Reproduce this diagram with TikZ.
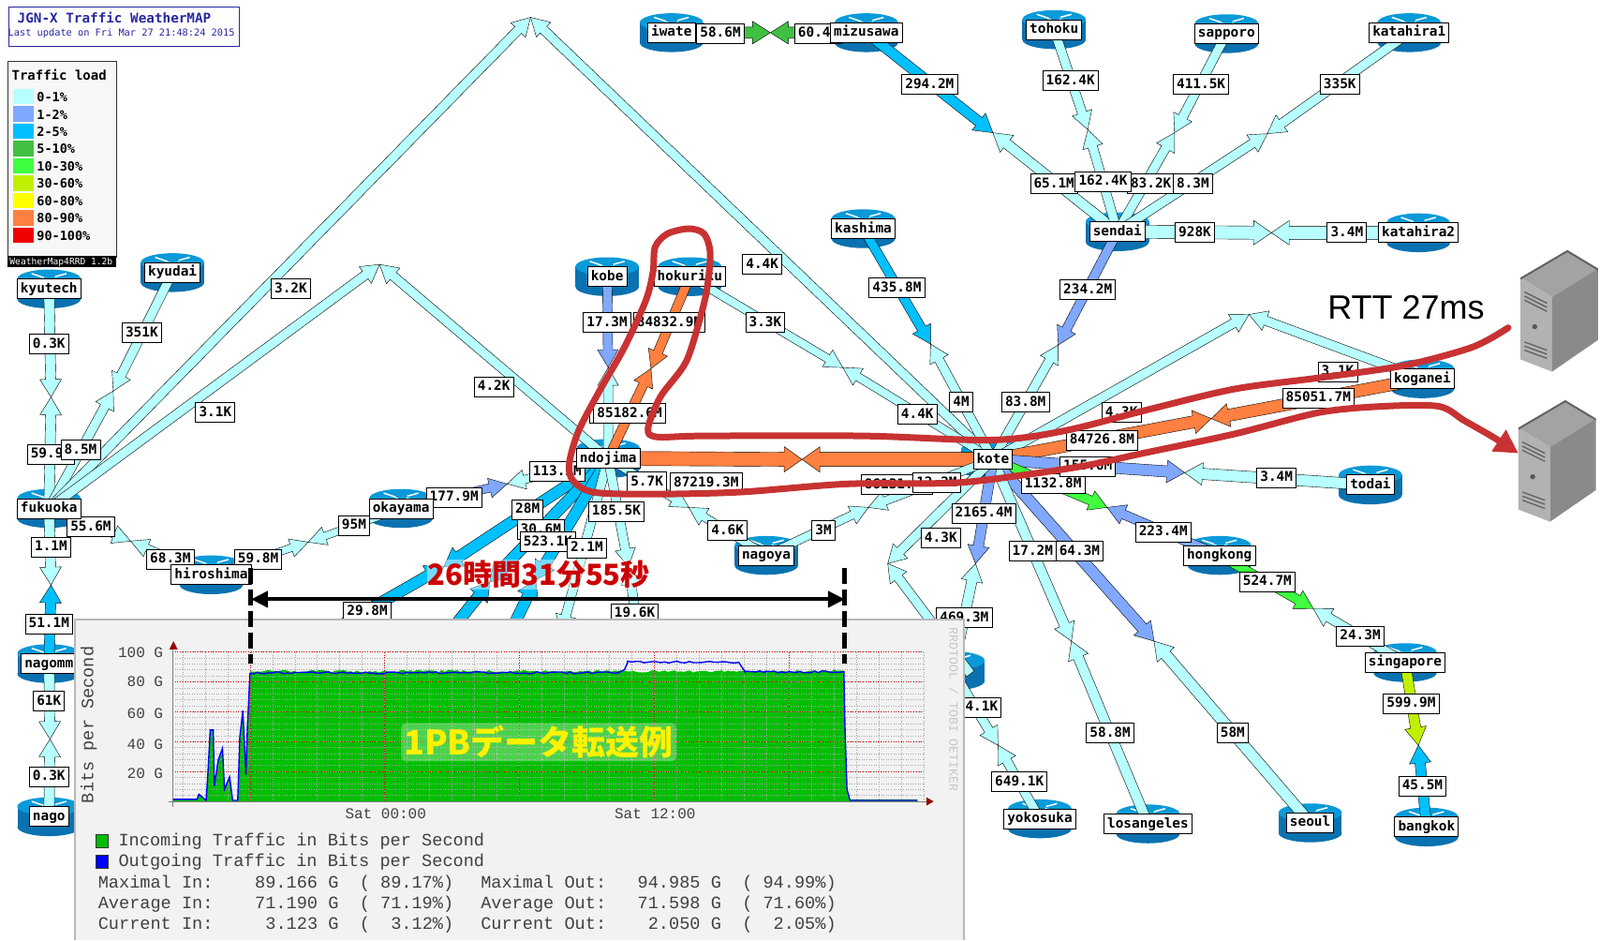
\documentclass[tikz,border=0pt]{standalone}
\usepackage{fontspec}
\usepackage{xcolor}
\usetikzlibrary{arrows.meta, calc}
\newfontfamily\mapfont{DejaVu Sans Mono}
\newfontfamily\graphfont{Liberation Mono}
\newfontfamily\noteJP{Noto Sans CJK JP}
\newfontfamily\rttfont{Liberation Sans}
\definecolor{Load_Cyan}{HTML}{B8FFFF}
\definecolor{Load_Lilac}{HTML}{80A8FF}
\definecolor{Load_Sky}{HTML}{00C0FF}
\definecolor{Load_Leaf}{HTML}{40C040}
\definecolor{Load_Lime}{HTML}{40FF40}
\definecolor{Load_Olive}{HTML}{C0F000}
\definecolor{Load_Yellow}{HTML}{FFFF00}
\definecolor{Load_Orange}{HTML}{FF8040}
\definecolor{Load_Red}{HTML}{F00000}
\definecolor{Router_Top}{HTML}{0A9AD8}
\definecolor{Router_Body}{HTML}{0A72B0}
\definecolor{Map_Title}{HTML}{2828A0}
\definecolor{Note_Red}{HTML}{C83232}
\definecolor{Graph_Green}{HTML}{00BE00}
\pgfdeclarelayer{iconlayer}
\pgfdeclarelayer{linklayer}
\pgfdeclarelayer{lbllayer}
\pgfsetlayers{iconlayer,linklayer,lbllayer,main}
\tikzset{
  netlabel/.style={draw=black, line width=0.9pt, fill=white, inner xsep=3.6pt, inner ysep=3.5pt,
    text height=11pt, text depth=3pt, font=\mapfont\bfseries\fontsize{14.4}{15}\selectfont},
  linkshape/.style={draw=black, line width=0.4pt},
  graphtext/.style={inner sep=0pt, text=black!75, font=\graphfont\fontsize{18.6}{20}\selectfont},
  ticktext/.style={inner sep=0pt, text=black!75, font=\graphfont\fontsize{16}{18}\selectfont},
  noteline/.style={draw=Note_Red, line width=7pt, line cap=round, line join=round}
}
% half of a link: shaft and tip from a node to the meeting point
\newcommand{\halfarrow}[4]{%
  \pgfmathsetmacro{\tipw}{#3+6}
  \coordinate (hb) at ($(#2)!19pt!(#1)$);
  \filldraw[linkshape, fill=#4] ($(#1)!#3pt!90:(#2)$) -- ($(hb)!#3pt!90:(#2)$) -- ($(hb)!\tipw pt!90:(#2)$)
    -- (#2) -- ($(hb)!\tipw pt!-90:(#2)$) -- ($(hb)!#3pt!-90:(#2)$) -- ($(#1)!#3pt!-90:(#2)$) -- cycle;
}
% router icon under its name box
\newcommand{\netrouter}[4]{%
  \begin{pgfonlayer}{iconlayer}
    \fill[Router_Body] (#2-31,#3-10) rectangle (#2+31,#3+10);
    \fill[Router_Body] (#2,#3+10) ellipse [x radius=31, y radius=9];
    \fill[Router_Top] (#2,#3-10) ellipse [x radius=31, y radius=9];
    \draw[white, line width=1.5pt] (#2-17,#3-15) -- (#2-5,#3-11) (#2+17,#3-15) -- (#2+6,#3-12) (#2-12,#3-7) -- (#2-3,#3-10) (#2+14,#3-8) -- (#2+5,#3-10);
  \end{pgfonlayer}
  \node[netlabel] (#1) at (#2,#3) {#4};
}
% tower server
\newcommand{\towerserver}[3]{%
  \begin{scope}[shift={(#2,#3)}]
    \fill[black!36] (1537,245) -- (1491,272) -- (1522,291) -- (1567,263) -- cycle;
    \fill[black!30] (1491,272) -- (1522,291) -- (1522,364) -- (1491,352) -- cycle;
    \fill[black!46] (1522,291) -- (1567,263) -- (1567,333) -- (1522,364) -- cycle;
    \fill[black!62] (1537,245) -- (1491,272) -- (1491,274) -- (1537,247) -- (1567,265) -- (1567,263) -- cycle;
    \foreach \y in {0,4,8} {
      \draw[black!62, line width=1.3pt] (1495,286+\y) -- (1517,297+\y);
      \draw[black!62, line width=1.3pt] (1495,335+\y) -- (1517,343+\y);
    }
    \fill[black!65] (1505,320) circle (2.5);
    \coordinate (#1) at (1522,300);
  \end{scope}
}

\begin{document}
\begin{tikzpicture}[x=1.08929pt, y=-1.08929pt]
\useasboundingbox (0,0) rectangle (1568,921);
\begin{pgfonlayer}{iconlayer}
  \fill[white] (0,0) rectangle (1568,921);
\end{pgfonlayer}
% --- Routers ---
\netrouter{kyutech}{48}{283}{kyutech}
\netrouter{kyudai}{169}{267}{kyudai}
\netrouter{fukuoka}{48}{498}{fukuoka}
\netrouter{hiroshima}{207}{563}{hiroshima}
\netrouter{okayama}{393}{498}{okayama}
\netrouter{ndojima}{596}{449}{ndojima}
\netrouter{kobe}{595}{271}{kobe}
\netrouter{hokuriku}{676}{271}{hokuriku}
\netrouter{kote}{973}{450}{kote}
\netrouter{nagoya}{751}{544}{nagoya}
\netrouter{kashima}{846}{224}{kashima}
\netrouter{iwate}{658}{32}{iwate}
\netrouter{mizusawa}{849}{32}{mizusawa}
\netrouter{tohoku}{1033}{29}{tohoku}
\netrouter{sapporo}{1202}{33}{sapporo}
\netrouter{katahiraA}{1381}{32}{katahira1}
\netrouter{sendai}{1095}{227}{sendai}
\netrouter{katahiraB}{1390}{228}{katahira2}
\netrouter{koganei}{1394}{371}{koganei}
\netrouter{todai}{1343}{475}{todai}
\netrouter{hongkong}{1195}{544}{hongkong}
\netrouter{singapore}{1377}{649}{singapore}
\netrouter{bangkok}{1398}{810}{bangkok}
\netrouter{seoul}{1284}{806}{seoul}
\netrouter{losangeles}{1125}{807}{losangeles}
\netrouter{yokosuka}{1019}{802}{yokosuka}
\netrouter{nagomm}{48}{650}{nagomm}
\netrouter{nago}{48}{800}{nago}
\netrouter{hiddenE}{934}{657}{e}
% ends of the links that run under the graph
\coordinate (endA) at (330,615);
\coordinate (endB) at (420,645);
\coordinate (endC) at (490,640);
\coordinate (endD) at (530,700);
\coordinate (endE) at (630,650);
\coordinate (endF) at (951,660);
% --- Links: from / to / meeting point / half width / colours ---
\begin{pgfonlayer}{linklayer}
\foreach \from/\to/\mx/\my/\hw/\ca/\cb in {
  kyutech/fukuoka/50/389/5.5/Load_Cyan/Load_Cyan,
  kyudai/fukuoka/111/383/5/Load_Cyan/Load_Cyan,
  fukuoka/kote/520/17/5/Load_Cyan/Load_Cyan,
  fukuoka/ndojima/372/259/5/Load_Cyan/Load_Cyan,
  fukuoka/hiroshima/128/530/4/Load_Cyan/Load_Cyan,
  hiroshima/okayama/302/531/4/Load_Cyan/Load_Cyan,
  okayama/ndojima/497/474/4.5/Load_Lilac/Load_Cyan,
  fukuoka/nagomm/50/573/5.5/Load_Cyan/Load_Sky,
  nagomm/nago/49/724/5.5/Load_Cyan/Load_Cyan,
  kobe/ndojima/596/360/5/Load_Lilac/Load_Cyan,
  hokuriku/ndojima/638/361/5/Load_Orange/Load_Orange,
  hokuriku/kote/826/360/4.5/Load_Cyan/Load_Cyan,
  kashima/kote/912/337/5/Load_Sky/Load_Cyan,
  sendai/kote/1037/338/5/Load_Lilac/Load_Cyan,
  mizusawa/sendai/973/130/5.5/Load_Sky/Load_Cyan,
  iwate/mizusawa/755/32/6/Load_Leaf/Load_Leaf,
  tohoku/sendai/1066/127/5/Load_Cyan/Load_Cyan,
  sapporo/sendai/1151/130/5/Load_Cyan/Load_Cyan,
  katahiraA/sendai/1242/131/5/Load_Cyan/Load_Cyan,
  sendai/katahiraB/1246/228/7/Load_Cyan/Load_Cyan,
  ndojima/kote/786/450/7.5/Load_Orange/Load_Orange,
  kote/koganei/1224/308/5/Load_Cyan/Load_Cyan,
  kote/koganei/1187/410/6.5/Load_Orange/Load_Orange,
  kote/todai/1161/463/6/Load_Lilac/Load_Cyan,
  kote/hongkong/1085/497/5/Load_Lime/Load_Lilac,
  hongkong/singapore/1287/596/5/Load_Lime/Load_Cyan,
  singapore/bangkok/1390/730/5.5/Load_Olive/Load_Sky,
  kote/seoul/1131/628/6/Load_Lilac/Load_Cyan,
  kote/losangeles/1050/628/5.5/Load_Cyan/Load_Cyan,
  kote/hiddenE/956/552/5.5/Load_Lilac/Load_Cyan,
  kote/endF/870/552/5/Load_Cyan/Load_Cyan,
  hiddenE/yokosuka/978/730/5/Load_Cyan/Load_Cyan,
  ndojima/nagoya/675/497/4.5/Load_Cyan/Load_Cyan,
  nagoya/kote/851/497/4.5/Load_Cyan/Load_Cyan,
  ndojima/endA/435/555/6/Load_Sky/Load_Sky,
  ndojima/endB/480/570/6/Load_Sky/Load_Sky,
  ndojima/endC/525/568/6/Load_Sky/Load_Sky,
  ndojima/endD/550/620/5/Load_Cyan/Load_Cyan,
  ndojima/endE/616/555/5/Load_Cyan/Load_Cyan} {
  \coordinate (via) at (\mx,\my);
  \halfarrow{\from}{via}{\hw}{\ca}
  \halfarrow{\to}{via}{\hw}{\cb}
}
\end{pgfonlayer}
% --- Link values ---
\begin{pgfonlayer}{lbllayer}
\node[netlabel, minimum width=36pt] (valHidden) at (594,405) {};
\foreach \x/\y/\val [count=\i] in {
  48/337/0.3K, 139/326/351K, 50/445/59.9M, 79/441/8.5M, 285/283/3.2K, 211/404/3.1K, 484/379/4.2K,
  89/516/55.6M, 167/548/68.3M, 253/548/59.8M, 347/515/95M, 445/487/177.9M, 546/462/113.5M,
  50/536/1.1M, 48/611/51.1M, 48/687/61K, 48/761/0.3K, 360/599/29.8M, 517/499/28M, 530/519/30.6M,
  537/531/523.1K, 575/537/2.1M, 604/501/185.5K, 622/601/19.6K, 692/473/87219.3M, 634/472/5.7K,
  879/475/86131.4M, 918/473/12.2M, 713/520/4.6K, 807/520/3M, 656/316/84832.9M, 595/316/17.3M,
  750/316/3.3K, 617/405/85182.6M, 747/259/4.4K, 899/406/4.4K, 879/282/435.8M, 942/394/4M,
  1005/394/83.8M, 1066/284/234.2M, 911/83/294.2M, 706/33/58.6M, 802/33/60.4M, 1049/79/162.4K,
  1177/83/411.5K, 1313/83/335K, 1033/180/65.1M, 1128/180/83.2K, 1169/180/8.3M, 1081/178/162.4K,
  1171/228/928K, 1320/228/3.4M, 1099/404/4.3K, 1311/364/3.1K, 1080/431/84726.8M, 1292/390/85051.7M,
  1032/474/1132.8M, 1066/457/155.6M, 1251/468/3.4M, 1140/521/223.4M, 1242/570/524.7M, 1333/623/24.3M,
  1383/689/599.9M, 1394/770/45.5M, 964/503/2165.4M, 922/527/4.3K, 945/605/469.3M, 958/693/34.1K,
  999/766/649.1K, 1058/540/64.3M, 1012/540/17.2M, 1088/718/58.8M, 1208/718/58M} {
  \node[netlabel] (val\i) at (\x,\y) {\val};
}
\end{pgfonlayer}
% --- Title and legend ---
\node[draw=Map_Title, line width=1pt, fill=white, minimum width=246.2pt, minimum height=42.5pt, anchor=north west] (titlebox) at (8,6) {};
\node[text=Map_Title, inner sep=0pt, font=\mapfont\bfseries\fontsize{14.3}{15}\selectfont] (titletext) at (112,17) {JGN-X Traffic WeatherMAP};
\node[text=Map_Title, inner sep=0pt, font=\mapfont\fontsize{10.3}{11}\selectfont] (updatetext) at (119,33) {Last update on Fri Mar 27 21:48:24 2015};
\node[draw=black!80, line width=1pt, fill=black!3, minimum width=116.5pt, minimum height=209pt, anchor=north west] (legendbox) at (7,60) {};
\node[inner sep=0pt, font=\mapfont\bfseries\fontsize{14}{14}\selectfont] (legendhead) at (58,73) {Traffic load};
\foreach \lname/\lcol [count=\i from 0] in {0-1\%/Load_Cyan, 1-2\%/Load_Lilac, 2-5\%/Load_Sky, 5-10\%/Load_Leaf, 10-30\%/Load_Lime, 30-60\%/Load_Olive, 60-80\%/Load_Yellow, 80-90\%/Load_Orange, 90-100\%/Load_Red} {
  \fill[\lcol] (13,{87+17*\i}) rectangle (33,{102+17*\i});
  \node[anchor=west, inner sep=0pt, font=\mapfont\bfseries\fontsize{13.5}{14}\selectfont] (legend\i) at (36,{95+17*\i}) {\lname};
}
\fill[black] (7,251) rectangle (114,262);
\node[text=white, inner sep=0pt, font=\mapfont\fontsize{9.6}{10}\selectfont] (legendfoot) at (60,257) {WeatherMap4RRD 1.2b};
% --- Traffic graph ---
\fill[black!5] (73,607) rectangle (945,921);
\draw[black!28, line width=2pt] (73,921) -- (73,607) -- (945,607) -- (945,921);
\fill[Graph_Green] (169,785) -- (169,783) -- (193,783) -- (195,778) -- (202,784) -- (203.5,762) -- (206,715) -- (209,715) -- (210,770) -- (214,744) -- (218,733) -- (220,773) -- (225,761) -- (228,784) -- (233,784) -- (235,722) -- (238,696) -- (241,759) -- (242.5,712) -- (245,658)
  -- plot[domain=245:827, samples=190] (\x,{657.5+1.3*rand}) -- (828,710) -- (830,773) -- (833,783) -- (899,783) -- (899,785) -- cycle;
\foreach \i in {1,...,25} {
  \draw[black!35, dotted, line width=0.6pt] (169,{785-\i*5.86}) -- (905,{785-\i*5.86});
}
\foreach \x in {179,201,...,905} {
  \draw[black!35, dotted, line width=0.6pt] (\x,639) -- (\x,785);
}
\foreach \i in {1,...,5} {
  \draw[red!85!black, dotted, line width=0.7pt] (169,{785-\i*29.3}) -- (905,{785-\i*29.3});
}
\foreach \x in {245,377,509,641,773} {
  \draw[red!85!black, dotted, line width=0.7pt] (\x,639) -- (\x,785);
}
\draw[blue, line width=1.4pt] (169,783) -- (193,783) -- (195,778) -- (202,784) -- (203.5,762) -- (206,715) -- (209,715) -- (210,770) -- (214,744) -- (218,733) -- (220,773) -- (225,761) -- (228,784) -- (233,784) -- (235,722) -- (238,696) -- (241,759) -- (242.5,712) -- (245,659)
  -- plot[domain=245:606, samples=100] (\x,{659+1*rand}) -- (612,656) -- (615,649) -- plot[domain=615:724, samples=28] (\x,{648.5+0.9*rand}) -- (730,658) -- plot[domain=730:827, samples=28] (\x,{658+1*rand}) -- (828,710) -- (830,773) -- (833,784) -- (899,784);
\draw[black!50, line width=1pt] (165,785) -- (908,785);
\draw[black!50, line width=1pt] (169,790) -- (169,634);
\fill[red!60!black] (908,781) -- (915,785) -- (908,789) -- cycle;
\fill[red!60!black] (166,636) -- (170,628) -- (174,636) -- cycle;
\foreach \y/\val [count=\i] in {639/100 G, 668/80 G, 699/60 G, 729/40 G, 758/20 G} {
  \node[ticktext, anchor=east] (ytick\i) at (160,\y) {\val};
}
\node[ticktext] (xtickA) at (378,797) {Sat 00:00};
\node[ticktext] (xtickB) at (642,797) {Sat 12:00};
\node[graphtext, rotate=90] (yaxisname) at (87,710) {Bits per Second};
\node[inner sep=0pt, rotate=-90, text=black!22, font=\graphfont\fontsize{13.3}{14}\selectfont] (rrdmark) at (935,695) {RRDTOOL / TOBI OETIKER};
\filldraw[draw=black!80, fill=Graph_Green] (94,817) rectangle (106,830);
\filldraw[draw=black!80, fill=blue] (94,837) rectangle (106,850);
\node[graphtext, anchor=west] (legendIn) at (116,824) {Incoming Traffic in Bits per Second};
\node[graphtext, anchor=west] (legendOut) at (116,844) {Outgoing Traffic in Bits per Second};
\node[graphtext, anchor=west] (statsA) at (96,865) {Maximal In:~~~~89.166 G~~(~89.17\%)};
\node[graphtext, anchor=west] (statsB) at (96,886) {Average In:~~~~71.190 G~~(~71.19\%)};
\node[graphtext, anchor=west] (statsC) at (96,906) {Current In:~~~~~3.123 G~~(~~3.12\%)};
\node[graphtext, anchor=west] (statsD) at (471,865) {Maximal Out:~~~94.985 G~~(~94.99\%)};
\node[graphtext, anchor=west] (statsE) at (471,886) {Average Out:~~~71.598 G~~(~71.60\%)};
\node[graphtext, anchor=west] (statsF) at (471,906) {Current Out:~~~~2.050 G~~(~~2.05\%)};
% --- Notes over the map ---
\coordinate (spanL) at (246,587);
\coordinate (spanR) at (828,587);
\draw[black, line width=4pt, {Triangle[length=18pt,width=17pt]}-{Triangle[length=18pt,width=17pt]}] (spanL) -- (spanR);
\draw[black, line width=5pt, dash pattern=on 17pt off 6pt] (246,556) -- (246,650);
\draw[black, line width=5pt, dash pattern=on 17pt off 6pt] (828,556) -- (828,650);
\node[text=red!80!black, fill=white, fill opacity=0.45, text opacity=1, inner sep=1pt, font=\noteJP\bfseries\fontsize{31}{32}\selectfont] (spantext) at (528,563) {26時間31分55秒};
\node[text=yellow, fill=white, fill opacity=0.3, text opacity=1, inner sep=3pt, rounded corners=5pt, font=\noteJP\bfseries\fontsize{36}{38}\selectfont] (pbtext) at (528,727) {1PBデータ転送例};
\node[inner sep=0pt, font=\rttfont\fontsize{36}{38}\selectfont] (rtttext) at (1378,301) {RTT 27ms};
\towerserver{serverA}{-1}{0}
\towerserver{serverB}{-3}{147}
\draw[noteline, -{Triangle[length=25pt,width=26pt]}] plot[smooth, tension=0.5] coordinates {
  (1478,321) (1443,340) (1376,358) (1293,370) (1210,381) (1126,401) (1043,422) (972,431) (847,427)
  (689,427) (644,428) (635,420) (647,389) (672,355) (686,312) (693,282) (696,248) (690,229) (675,224)
  (654,229) (642,242) (640,266) (633,294) (612,340) (588,382) (567,422) (558,453) (561,470) (581,482)
  (637,484) (725,482) (830,474) (935,473) (1005,465) (1064,456) (1120,444) (1210,425) (1293,404)
  (1355,398) (1410,398) (1435,412) (1463,428) (1488,444)};
\end{tikzpicture}
\end{document}
